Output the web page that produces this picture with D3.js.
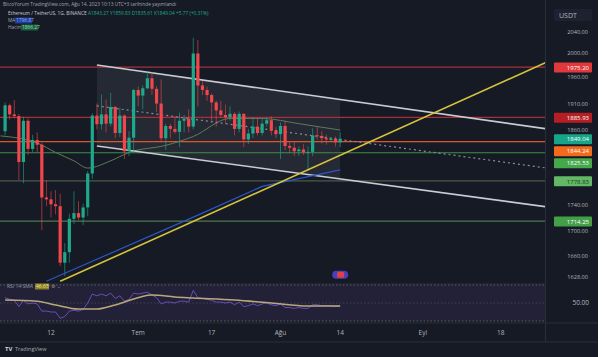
<!DOCTYPE html>
<html><head><meta charset="utf-8">
<script src="https://cdn.jsdelivr.net/npm/d3@7"></script>
<style>body{margin:0;background:#fff;}svg{display:block;font-family:"Open Sans",Roboto,"DejaVu Sans",sans-serif;}</style>
</head><body><svg id="c" width="606" height="357"></svg>
<script>
// ---------- DATA ----------
const dates = ["2023-06-02","2023-06-03","2023-06-04","2023-06-05","2023-06-06","2023-06-07","2023-06-08","2023-06-09","2023-06-10","2023-06-11","2023-06-12","2023-06-13","2023-06-14","2023-06-15","2023-06-16","2023-06-17","2023-06-18","2023-06-19","2023-06-20","2023-06-21","2023-06-22","2023-06-23","2023-06-24","2023-06-25","2023-06-26","2023-06-27","2023-06-28","2023-06-29","2023-06-30",
"2023-07-01","2023-07-02","2023-07-03","2023-07-04","2023-07-05","2023-07-06","2023-07-07","2023-07-08","2023-07-09","2023-07-10","2023-07-11","2023-07-12","2023-07-13","2023-07-14","2023-07-15","2023-07-16","2023-07-17","2023-07-18","2023-07-19","2023-07-20","2023-07-21","2023-07-22","2023-07-23","2023-07-24","2023-07-25","2023-07-26","2023-07-27","2023-07-28","2023-07-29","2023-07-30","2023-07-31",
"2023-08-01","2023-08-02","2023-08-03","2023-08-04","2023-08-05","2023-08-06","2023-08-07","2023-08-08","2023-08-09","2023-08-10","2023-08-11","2023-08-12","2023-08-13","2023-08-14"];
const opens = [1862,1907,1891,1888,1810,1880,1832,1847,1839,1752,1749,1741,1738,1650,1666,1718,1727,1720,1736,1791,1889,1874,1891,1875,1904,1859,1889,1828,1851,
1934,1924,1937,1955,1936,1910,1850,1871,1866,1861,1880,1884,1870,2000,1942,1934,1925,1912,1898,1890,1886,1892,1866,1892,1848,1858,1870,1859,1875,1881,1863,
1857,1871,1837,1834,1828,1831,1826,1827,1855,1854,1850,1848,1849,1843];
const highs = [1912,1910,1916,1892,1887,1884,1856,1860,1842,1780,1762,1764,1758,1680,1726,1762,1746,1742,1795,1893,1910,1926,1917,1929,1906,1903,1891,1862,1936,
1940,1942,1968,1966,1941,1953,1875,1875,1888,1894,1890,1900,2029,2025,1950,1940,1928,1915,1915,1908,1905,1895,1896,1893,1866,1886,1885,1883,1886,1888,1869,
1877,1880,1845,1845,1836,1840,1836,1867,1870,1862,1856,1852,1853,1860];
const lows = [1855,1882,1884,1780,1775,1822,1826,1826,1700,1738,1720,1725,1645,1630,1650,1710,1716,1708,1722,1782,1865,1865,1860,1870,1850,1852,1815,1820,1825,
1905,1900,1935,1925,1895,1843,1830,1850,1858,1835,1860,1860,1865,1905,1925,1915,1880,1870,1885,1875,1880,1855,1860,1835,1840,1850,1855,1855,1870,1855,1850,
1815,1830,1825,1820,1820,1822,1795,1820,1848,1841,1839,1844,1836,1835];
const closes = [1907,1891,1888,1810,1880,1832,1847,1839,1752,1749,1741,1738,1650,1666,1718,1727,1720,1736,1791,1889,1874,1891,1875,1904,1859,1889,1828,1851,1934,
1924,1937,1955,1936,1910,1850,1871,1866,1861,1880,1884,1870,2000,1942,1934,1925,1912,1898,1890,1886,1892,1866,1892,1848,1858,1870,1859,1875,1881,1863,1857,
1871,1837,1834,1828,1831,1826,1827,1855,1854,1850,1848,1849,1843,1849.04];
const rsiValues = [56,54,53,46,53,49,50,49,41,41,40,40,33,35,41,42,41,43,50,60,58,60,58,61,55,58,52,54,61,
60,61,62,59,56,49,51,51,50,52,52,51,64,56,55,54,53,51,51,50,51,48,51,46,47,49,47,49,50,48,47,
49,45,45,44,45,44,44,48,48,47,47,47,46,47];
const rsiMaDates = ["2023-06-02","2023-06-09","2023-06-13","2023-06-18","2023-06-22","2023-06-26","2023-07-04","2023-07-09","2023-07-13","2023-07-22","2023-07-30","2023-08-07","2023-08-14"];
const rsiMaValues = [53.3,52,47.8,43.3,43.3,47.8,58.9,56.7,55.6,53.3,50,46.7,46.7];
const maDates = ["2023-06-01","2023-06-09","2023-06-13","2023-06-17","2023-06-20","2023-06-25","2023-06-29","2023-07-07","2023-07-13","2023-07-21","2023-07-28","2023-08-05","2023-08-14"];
const maValues = [1854,1842,1826,1812,1800,1812,1826,1838,1853,1884,1884,1875,1864];
const levelValues = [1975.20,1885.93,1844.24,1825.53,1778.83,1714.25];
const levelColors = ["#a8303a","#a8303a","#d9572b","#3f8f44","#4a5a4a","#4c7a4c"];
const labelValues = [1975.20,1885.93,1849.04,1844.24,1825.53,1778.83,1714.25];
const labelBg = ["#e0393c","#b51f24","#17a589","#f26b1d","#45a84a","#62b865","#43a047"];
const labelFg = ["#fff","#fff","#fff","#fff","#fff","#173a17","#fff"];
const priceTicks = [2040,2000,1960,1910,1860,1740,1700,1660,1628];
const xTickDates = ["2023-06-12","2023-07-01","2023-07-17","2023-08-01","2023-08-14","2023-09-01","2023-09-18"];
const xTickLabels = ["12","Tem","17","Ağu","14","Eyl","18"];
const yellowDates = ["2023-06-14","2023-09-28"], yellowPrices = [1622,1984];
const chanDates = ["2023-06-22","2023-09-28"];
const chanUpper = [1979,1866], chanLower = [1837,1737], chanMid = [1906,1800];
const chanFillEnd = "2023-08-14";
const blueDates = ["2023-06-11","2023-06-16","2023-07-15","2023-07-28","2023-08-14"];
const bluePrices = [1622,1637,1727,1770,1797];

// ---------- SCALES ----------
const parse = d3.utcParse("%Y-%m-%d");
const x = d3.scaleUtc().domain([parse("2023-06-01"), parse("2023-10-01")]).range([0.5, 0.5 + 122*4.59]);
const y = d3.scaleLog().domain([1618, 2072]).range([284, 15]);
const yr = d3.scaleLinear().domain([30, 70]).range([321, 285]);
const PW = 545;

const svg = d3.select("#c");
svg.append("rect").attr("width",598).attr("height",357).attr("fill","#161a25");
const defs = svg.append("defs");
defs.append("clipPath").attr("id","cp").append("rect").attr("x",0).attr("y",0).attr("width",PW).attr("height",284);
defs.append("clipPath").attr("id","cr").append("rect").attr("x",0).attr("y",284).attr("width",PW).attr("height",39);

// ---------- PRICE PANE ----------
const gp = svg.append("g").attr("clip-path","url(#cp)");
const ux0 = x(parse(chanDates[0])), ux1 = x(parse(chanDates[1]));
const fe = x(parse(chanFillEnd));
const lerp = (a,b,t)=>a+(b-a)*t;
const tt = (fe-ux0)/(ux1-ux0);
const uy0 = y(chanUpper[0]), uy1 = y(chanUpper[1]), ly0 = y(chanLower[0]), ly1 = y(chanLower[1]);
gp.append("path").attr("d", `M${ux0},${uy0}L${fe},${lerp(uy0,uy1,tt)}L${fe},${lerp(ly0,ly1,tt)}L${ux0},${ly0}Z`)
  .attr("fill","rgba(190,195,215,0.09)");
gp.selectAll("line.lv").data(levelValues).join("line").attr("class","lv")
  .attr("x1",0).attr("x2",PW).attr("y1",d=>y(d)).attr("y2",d=>y(d))
  .attr("stroke",(d,i)=>levelColors[i]).attr("stroke-width",1.2);
const maPts = maDates.map((d,i)=>[x(parse(d)), y(maValues[i])]);
gp.append("path").attr("d", d3.line().curve(d3.curveMonotoneX)(maPts))
  .attr("fill","none").attr("stroke","#5f7a5c").attr("stroke-width",1);
function seg(ds, ps, color, w, dash){
  gp.append("path").attr("d", d3.line()(ds.map((d,i)=>[x(parse(d)), y(ps[i])])))
    .attr("fill","none").attr("stroke",color).attr("stroke-width",w).attr("stroke-dasharray",dash||null);
}
seg(chanDates, chanMid, "#8a8d99", 1.2, "2,3");
seg(chanDates, chanUpper, "#c9cbd3", 1.6);
seg(chanDates, chanLower, "#c9cbd3", 1.6);
const candles = dates.map((d,i)=>({d:parse(d),o:opens[i],h:highs[i],l:lows[i],c:closes[i]}));
const up = "#1fa98b", dn = "#f0474c";
gp.selectAll("line.wk").data(candles).join("line").attr("class","wk")
  .attr("x1",d=>x(d.d)).attr("x2",d=>x(d.d)).attr("y1",d=>y(d.h)).attr("y2",d=>y(d.l))
  .attr("stroke",d=>d.c>=d.o?up:dn).attr("stroke-width",0.8).attr("opacity",0.75);
gp.selectAll("rect.bd").data(candles).join("rect").attr("class","bd")
  .attr("x",d=>x(d.d)-1.6).attr("width",3.2)
  .attr("y",d=>y(Math.max(d.o,d.c))).attr("height",d=>Math.max(1,Math.abs(y(d.o)-y(d.c))))
  .attr("fill",d=>d.c>=d.o?up:dn);
gp.append("path").attr("d", d3.line()(blueDates.map((d,i)=>[x(parse(d)), y(bluePrices[i])])))
  .attr("fill","none").attr("stroke","#2c56c9").attr("stroke-width",1.2);
seg(yellowDates, yellowPrices, "#d6c33c", 1.6);
const mk = svg.append("g").attr("transform",`translate(${x(parse("2023-08-14"))},${y(1632)})`);
mk.append("rect").attr("x",-8).attr("y",-4).attr("width",16).attr("height",8).attr("rx",4).attr("fill","#4b3fb5");
mk.append("rect").attr("x",-3).attr("y",-3).attr("width",7).attr("height",6).attr("rx",1.5).attr("fill","#e0404a");

// ---------- RSI PANE ----------
svg.append("line").attr("x1",0).attr("x2",PW).attr("y1",284).attr("y2",284).attr("stroke","#2a2e39");
svg.append("rect").attr("x",0).attr("y",yr(70)).attr("width",PW).attr("height",yr(30)-yr(70)).attr("fill","rgba(126,87,194,0.12)");
[70,50,30].forEach(v=>svg.append("line").attr("x1",0).attr("x2",PW).attr("y1",yr(v)).attr("y2",yr(v))
  .attr("stroke", v===50?"#4a4d5a":"#6b6e7a").attr("stroke-width",0.8).attr("stroke-dasharray","1.5,2"));
const gr = svg.append("g").attr("clip-path","url(#cr)");
gr.append("path").attr("d", d3.line()(dates.map((d,i)=>[x(parse(d)), yr(rsiValues[i])])))
  .attr("fill","none").attr("stroke","#6f52c4").attr("stroke-width",0.9);
gr.append("path").attr("d", d3.line().curve(d3.curveMonotoneX)(rsiMaDates.map((d,i)=>[x(parse(d)), yr(rsiMaValues[i])])))
  .attr("fill","none").attr("stroke","#b9a97a").attr("stroke-width",1.6);
const rl = svg.append("g").attr("font-size",5);
rl.append("text").attr("x",7).attr("y",288).attr("fill","#9598a1").text("RSI 14 SMA");
rl.append("rect").attr("x",35).attr("y",283.5).attr("width",14).attr("height",6).attr("fill","#8a7f2a");
rl.append("text").attr("x",36).attr("y",288).attr("fill","#f0e68c").text("46.65");
rl.append("text").attr("x",51).attr("y",288).attr("fill","#9598a1").text("⚙ ⌄");

// ---------- AXES / FRAME ----------
svg.append("line").attr("x1",PW+0.5).attr("x2",PW+0.5).attr("y1",0).attr("y2",342).attr("stroke","#2a2e39");
svg.append("line").attr("x1",0).attr("x2",598).attr("y1",323).attr("y2",323).attr("stroke","#2a2e39");
svg.append("line").attr("x1",0).attr("x2",598).attr("y1",342).attr("y2",342).attr("stroke","#2a2e39");
// price labels (collision push)
let lastY = -100;
const boxes = [];
labelValues.map((v,i)=>({v,i,yy:y(v)})).sort((a,b)=>a.yy-b.yy).forEach(o=>{
  if (o.yy < lastY + 12) o.yy = lastY + 12; lastY = o.yy;
  boxes.push([o.yy-4.6, o.yy+5.4]);
  o.top = o.yy-4.6;
});
// ticks, nudged clear of label boxes
const FS = 5.6, ASC = 1.1*FS, DSC = 0.3*FS;
const ax = svg.append("g").attr("font-size",FS).attr("fill","#b2b5be").attr("text-anchor","end");
priceTicks.forEach(t=>{
  let b = y(t) + 2;
  boxes.forEach(([t0,t1])=>{
    if (b + DSC > t0 && b - ASC < t1) {
      if (y(t) < (t0+t1)/2) b = t0 - DSC - 0.3; else b = t1 + ASC + 0.3;
    }
  });
  ax.append("text").attr("x",588).attr("y",b).text(t.toFixed(2));
});
labelValues.map((v,i)=>({v,i,yy:y(v)})).sort((a,b)=>a.yy-b.yy).reduce((prev,o)=>{
  if (o.yy < prev + 12) o.yy = prev + 12;
  svg.append("rect").attr("x",554).attr("y",o.yy-4.6).attr("width",38).attr("height",10).attr("rx",1).attr("fill",labelBg[o.i]);
  svg.append("text").attr("x",589).attr("y",o.yy+2.6).attr("text-anchor","end").attr("font-size",6)
    .attr("fill",labelFg[o.i]).text(o.v.toFixed(2));
  return o.yy;
}, -100);
svg.append("rect").attr("x",554).attr("y",9).attr("width",38).attr("height",12).attr("rx",2).attr("fill","#1e2230");
svg.append("text").attr("x",559).attr("y",17.5).attr("font-size",7).attr("fill","#b2b5be").text("USDT");
svg.append("text").attr("x",589).attr("y",yr(50)+2.3).attr("text-anchor","end").attr("font-size",6.5).attr("fill","#b2b5be").text("50.00");
svg.append("g").attr("font-size",6.5).attr("fill","#b2b5be").attr("text-anchor","middle")
  .selectAll("text").data(xTickDates).join("text").attr("x",d=>x(parse(d))).attr("y",335).text((d,i)=>xTickLabels[i]);

// ---------- HEADER ----------
const hd = svg.append("g").attr("font-size",4.8);
hd.append("text").attr("x",3).attr("y",6).attr("fill","#a3a6af").text("BitcoYorum TradingView.com, Ağu 14, 2023 10:13 UTC+3 tarihinde yayımlandı");
hd.append("text").attr("x",8).attr("y",15).attr("fill","#c9ccd4").text("Ethereum / TetherUS, 1G, BINANCE");
hd.append("text").attr("x",88).attr("y",15).attr("fill","#1fa98b").text("A1843.27  Y1859.83  D1835.61  K1849.04  +5.77 (+0.31%)");
hd.append("text").attr("x",8).attr("y",22).attr("fill","#a3a6af").text("MA");
hd.append("rect").attr("x",15).attr("y",17.5).attr("width",17).attr("height",6).attr("fill","#1f3f9a");
hd.append("text").attr("x",16).attr("y",22).attr("fill","#9db4ff").text("1796.87");
hd.append("text").attr("x",8).attr("y",29).attr("fill","#a3a6af").text("Hacim");
hd.append("rect").attr("x",21).attr("y",24.5).attr("width",17).attr("height",6).attr("fill","#1d5e40");
hd.append("text").attr("x",22).attr("y",29).attr("fill","#8fe0b0").text("1866.27");
svg.append("text").attr("x",5).attr("y",351).attr("font-size",6).attr("font-weight","bold").attr("fill","#d1d4dc").text("TV");
svg.append("text").attr("x",15).attr("y",351).attr("font-size",5.5).attr("fill","#a3a6af").text("TradingView");
</script></body></html>
